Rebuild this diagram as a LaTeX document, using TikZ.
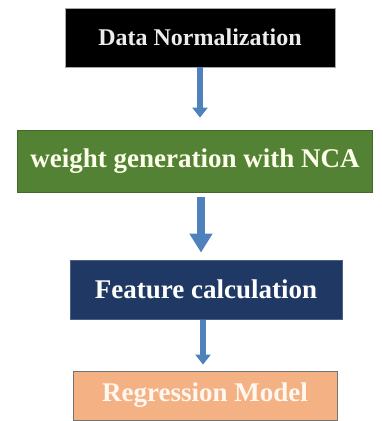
\documentclass[tikz,border=0pt]{standalone}
\usepackage{fontspec}
\setmainfont{Liberation Serif}
\usetikzlibrary{arrows.meta, positioning}
\definecolor{ncagreen}{RGB}{84,130,53}
\definecolor{featnavy}{RGB}{31,56,100}
\definecolor{regorange}{RGB}{244,177,131}
\definecolor{arrowblue}{RGB}{79,129,189}

\begin{document}
\begin{tikzpicture}[
  x=1pt, y=1pt,
  box/.style={draw, line width=0.8pt, inner sep=0pt,
              font=\bfseries\fontsize{27}{30}\selectfont},
  flow/.style={-{Triangle[length=10pt, width=15pt]}, line width=6pt, draw=arrowblue},
  bigflow/.style={-{Triangle[length=19pt, width=22pt]}, line width=8pt, draw=arrowblue},
]
\useasboundingbox (0,0) rectangle (381,421);

%% Boxes
\node[box, fill=black, draw=gray!70, text=gray!15,
      font=\bfseries\fontsize{24}{28}\selectfont,
      minimum width=270pt, minimum height=59pt] (norm) at (200,383.5) {Data Normalization};
\node[box, fill=ncagreen, draw=ncagreen!80!black, text=green!4!yellow!8,
      minimum width=355pt, minimum height=62pt] (nca) at (195,260) {weight generation with NCA};
\node[box, fill=featnavy, draw=featnavy!80!white, text=white,
      minimum width=272pt, minimum height=59pt] (feat) at (206,131.5) {Feature calculation};
\node[box, fill=regorange, draw=gray!90!black, text=orange!6,
      minimum width=264pt, minimum height=49pt] (reg) at (205,25.5) {Regression Model};

%% Arrows
\draw[flow, shorten >=12pt] (norm.south) -- (norm.south |- nca.north);
\draw[bigflow, shorten <=5pt, shorten >=7pt] ([xshift=1pt]norm.south |- nca.south) -- ([xshift=1pt]norm.south |- feat.north);
\draw[flow, shorten <=1pt, shorten >=6pt] ([xshift=3pt]norm.south |- feat.south) -- ([xshift=3pt]norm.south |- reg.north);

\end{tikzpicture}
\end{document}
